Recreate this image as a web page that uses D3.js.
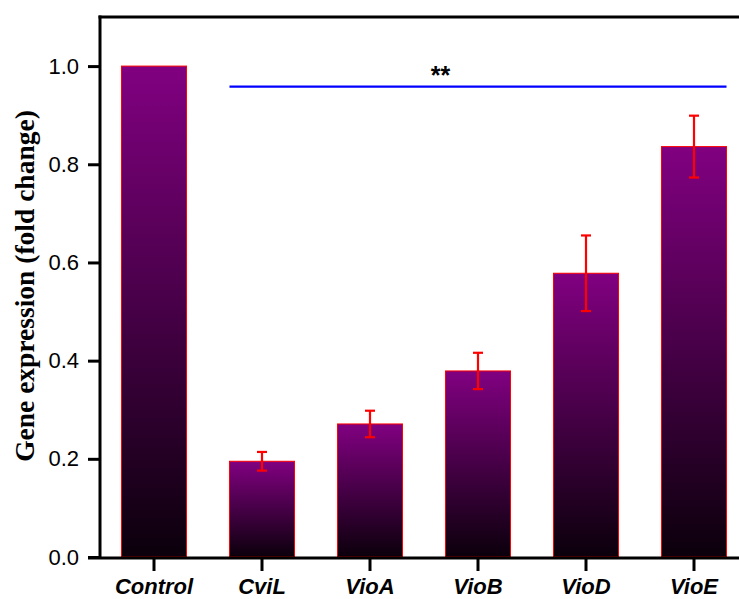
<!DOCTYPE html>
<html>
<head>
<meta charset="utf-8">
<script src="https://cdn.jsdelivr.net/npm/d3@7/dist/d3.min.js"></script>
<style>
  html, body { margin: 0; padding: 0; background: #ffffff; }
  svg { display: block; }
</style>
</head>
<body>
<svg id="chart" width="739" height="599"></svg>
<script>
// Relative expression of violacein pathway genes
const categories = ["Control", "CviL", "VioA", "VioB", "VioD", "VioE"];
const foldChange = [1.0, 0.195, 0.271, 0.379, 0.578, 0.836];
const errors = [0, 0.019, 0.027, 0.037, 0.077, 0.063];
const yTicks = [0.0, 0.2, 0.4, 0.6, 0.8, 1.0];
const significance = { label: "**", from: "CviL", to: "VioE", level: 0.958 };

const svg = d3.select("#chart");
const W = 739, H = 599;
const margin = { left: 100, top: 17, bottom: 42 };
const y0 = H - margin.bottom; // 557

const x = d3.scaleBand()
  .domain(categories)
  .range([margin.left, margin.left + categories.length * 108])
  .paddingInner(0.398)
  .paddingOuter(0.199);

const y = d3.scaleLinear().domain([0, 1.1]).range([y0, margin.top]);

// vertical purple-to-black fill, one gradient per bar box
const defs = svg.append("defs");
const grad = defs.append("linearGradient")
  .attr("id", "barFill")
  .attr("x1", 0).attr("y1", 0).attr("x2", 0).attr("y2", 1);
grad.append("stop").attr("offset", "0%").attr("stop-color", "#810081");
grad.append("stop").attr("offset", "100%").attr("stop-color", "#0b000b");

// bars
svg.append("g").selectAll("rect")
  .data(categories)
  .join("rect")
  .attr("x", d => x(d))
  .attr("y", (d, i) => y(foldChange[i]))
  .attr("width", x.bandwidth())
  .attr("height", (d, i) => y0 - y(foldChange[i]))
  .attr("fill", "url(#barFill)")
  .attr("stroke", "#ff0000")
  .attr("stroke-width", 1);

// error bars
const eb = svg.append("g").attr("stroke", "#ff0000").attr("stroke-width", 2.2);
categories.forEach((c, i) => {
  if (!errors[i]) return;
  const cx = x(c) + x.bandwidth() / 2;
  const hi = y(foldChange[i] + errors[i]);
  const lo = y(foldChange[i] - errors[i]);
  eb.append("line").attr("x1", cx).attr("x2", cx).attr("y1", hi).attr("y2", lo);
  eb.append("line").attr("x1", cx - 5).attr("x2", cx + 5).attr("y1", hi).attr("y2", hi);
  eb.append("line").attr("x1", cx - 5).attr("x2", cx + 5).attr("y1", lo).attr("y2", lo);
});

// significance bracket
const sx1 = x(significance.from);
const sx2 = x(significance.to) + x.bandwidth();
svg.append("line")
  .attr("x1", sx1).attr("x2", sx2)
  .attr("y1", y(significance.level)).attr("y2", y(significance.level))
  .attr("stroke", "#0000ff").attr("stroke-width", 2.2);
svg.append("text")
  .attr("x", x("VioB") - 5)
  .attr("y", y(significance.level) - 3)
  .attr("text-anchor", "middle")
  .attr("font-family", "Liberation Sans, Arial, sans-serif")
  .attr("font-weight", "bold")
  .attr("font-size", 25)
  .attr("fill", "#000")
  .text(significance.label);

// y axis
const yAxis = svg.append("g")
  .attr("transform", `translate(${margin.left},0)`)
  .call(d3.axisLeft(y).tickValues(yTicks).tickFormat(d3.format(".1f")).tickSize(12).tickSizeOuter(0).tickPadding(9));
yAxis.select(".domain").remove();
yAxis.selectAll(".tick line").attr("stroke", "#000").attr("stroke-width", 3);
yAxis.selectAll(".tick text")
  .attr("font-family", "Liberation Sans, Arial, sans-serif")
  .attr("font-size", 22)
  .attr("fill", "#000");

// x axis
const xAxis = svg.append("g")
  .attr("transform", `translate(0,${y0})`)
  .call(d3.axisBottom(x).tickSize(14).tickSizeOuter(0).tickPadding(7));
xAxis.select(".domain").remove();
xAxis.selectAll(".tick line").attr("stroke", "#000").attr("stroke-width", 3);
xAxis.selectAll(".tick text")
  .attr("font-family", "Liberation Sans, Arial, sans-serif")
  .attr("font-size", 22)
  .attr("font-weight", "bold")
  .attr("font-style", "italic")
  .attr("fill", "#000");

// frame: left, bottom and top lines
const frame = svg.append("g").attr("stroke", "#000").attr("stroke-width", 3).attr("fill", "none");
frame.append("line").attr("x1", margin.left).attr("x2", margin.left).attr("y1", margin.top - 1.5).attr("y2", y0 + 1.5);
frame.append("line").attr("x1", margin.left - 12).attr("x2", W).attr("y1", y0 + 1).attr("y2", y0 + 1);
frame.append("line").attr("x1", margin.left - 1.5).attr("x2", W).attr("y1", margin.top).attr("y2", margin.top);

// y axis title
svg.append("text")
  .attr("transform", `translate(34,286) rotate(-90)`)
  .attr("text-anchor", "middle")
  .attr("font-family", "Liberation Serif, Times New Roman, serif")
  .attr("font-weight", "bold")
  .attr("font-size", 27.5)
  .attr("fill", "#000")
  .text("Gene expression (fold change)");
</script>
</body>
</html>
